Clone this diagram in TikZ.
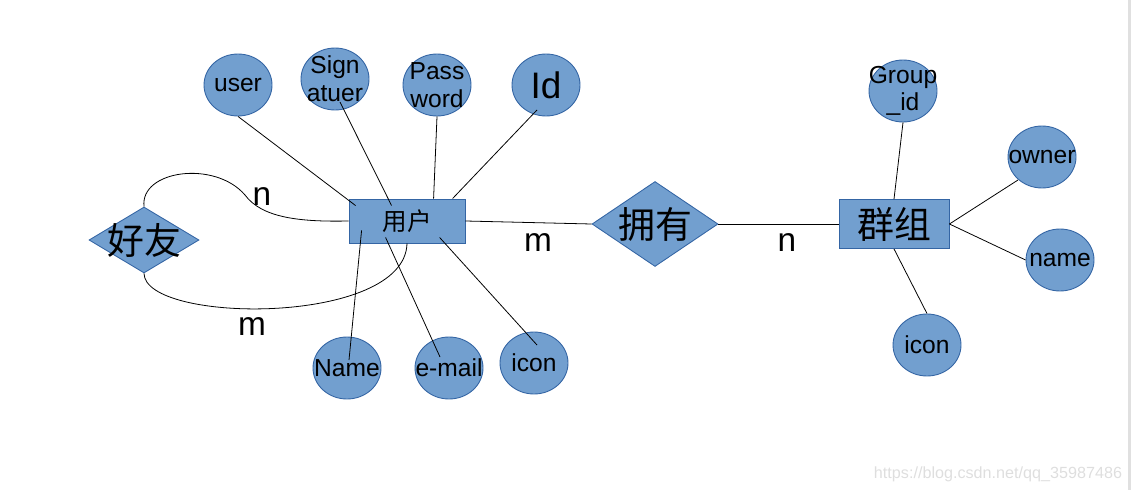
\documentclass[tikz,border=0pt]{standalone}
\usepackage{fontspec}
\setmainfont{Liberation Sans}
\newfontfamily\cjk{Noto Sans CJK SC}
\usetikzlibrary{shapes.geometric}

\definecolor{erfill}{HTML}{729FCF}
\definecolor{erline}{HTML}{3465A4}

\begin{document}
\begin{tikzpicture}[
  x=0.02cm,
  y=-0.02cm,
  attr/.style={
    ellipse,
    draw=erline,
    fill=erfill,
    line width=0.5pt,
    inner sep=0pt,
    minimum width=1.36cm,
    minimum height=1.24cm,
    label={[attrlbl]center:#1}
  },
  attrlbl/.style={font=\fontsize{14}{15.7}\selectfont, align=center, inner sep=0pt},
  ent/.style={
    rectangle,
    draw=erline,
    fill=erfill,
    line width=0.5pt,
    inner sep=0pt
  },
  rel/.style={
    diamond,
    draw=erline,
    fill=erfill,
    line width=0.5pt,
    inner sep=0pt,
    label={[rellbl]center:#1}
  },
  rellbl/.style={font=\fontsize{21}{24}\selectfont\cjk, inner sep=0pt},
  card/.style={font=\fontsize{19}{22}\selectfont, inner sep=0pt},
  link/.style={line width=0.45pt, draw=black}
]
\useasboundingbox (0,0) rectangle (1131,493);

\node[ent, minimum width=2.32cm, minimum height=0.88cm, font=\fontsize{14}{16}\selectfont\cjk] (yonghu) at (407,221) {用户};
\node[ent, minimum width=2.2cm, minimum height=0.98cm, font=\fontsize{21}{24}\selectfont\cjk] (qunzu) at (894,224) {群组};

\node[rel=好友, minimum width=2.2cm, minimum height=1.32cm] (haoyou) at (144,240) {};
\node[rel=拥有, minimum width=2.52cm, minimum height=1.7cm] (yongyou) at (655,224) {};

\node[attr=user] (uUser) at (238,85) {};
\node[attr={Sign\\atuer}] (uSign) at (335,79) {};
\node[attr={Pass\\word}] (uPass) at (437,85) {};
\node[attr={\fontsize{21}{24}\selectfont Id}] (uId) at (546,85) {};
\node[attr=Name] (uName) at (347,368) {};
\node[attr=e-mail] (uMail) at (449,368) {};
\node[attr=icon] (uIcon) at (534,363) {};

\node[attr={Group\\\_id}] (gId) at (903,91) {};
\node[attr=owner] (gOwner) at (1042,157) {};
\node[attr=name] (gName) at (1060,260) {};
\node[attr=icon] (gIcon) at (927,345) {};

\draw[link] (uUser.south) -- ([shift={(7,7)}]yonghu.north west);
\draw[link] ([shift={(5,23)}]uSign.center) -- ([shift={(43,7)}]yonghu.north west);
\draw[link] (uPass.south) -- ([shift={(85,0)}]yonghu.north west);
\draw[link] ([shift={(-9,25)}]uId.center) -- ([shift={(104,0)}]yonghu.north west);
\draw[link] ([shift={(13,-13)}]yonghu.south west) -- ([shift={(2,-8)}]uName.center);
\draw[link] ([shift={(37,-6)}]yonghu.south west) -- ([shift={(-9,-11)}]uMail.center);
\draw[link] ([shift={(91,-6)}]yonghu.south west) -- ([shift={(3,-18)}]uIcon.center);

\draw[link] (gId.south) -- (qunzu.north);
\draw[link] ([shift={(-24,23)}]gOwner.center) -- (qunzu.east);
\draw[link] (gName.west) -- (qunzu.east);
\draw[link] (gIcon.north) -- (qunzu.south);

\draw[link] (yonghu.east) -- (yongyou.west);
\draw[link] (yongyou.east) -- (qunzu.west);

\draw[link] (haoyou.north) .. controls (140,170) and (215,160) .. (245,195)
  .. controls (262,218) and (300,222) .. (yonghu.west);
\draw[link] (haoyou.south) .. controls (145,324) and (405,326) .. (yonghu.south);

\node[card] (cardHn) at (262,197) {n};
\node[card] (cardHm) at (252,327) {m};
\node[card] (cardUm) at (538,243) {m};
\node[card] (cardGn) at (787,243) {n};

\node[font=\fontsize{9.2}{11}\selectfont, text=black!13, inner sep=0pt] (wmark) at (998,474) {https://blog.csdn.net/qq\_35987486};
\fill[black!12] (1128,0) rectangle (1131,490);
\end{tikzpicture}
\end{document}
